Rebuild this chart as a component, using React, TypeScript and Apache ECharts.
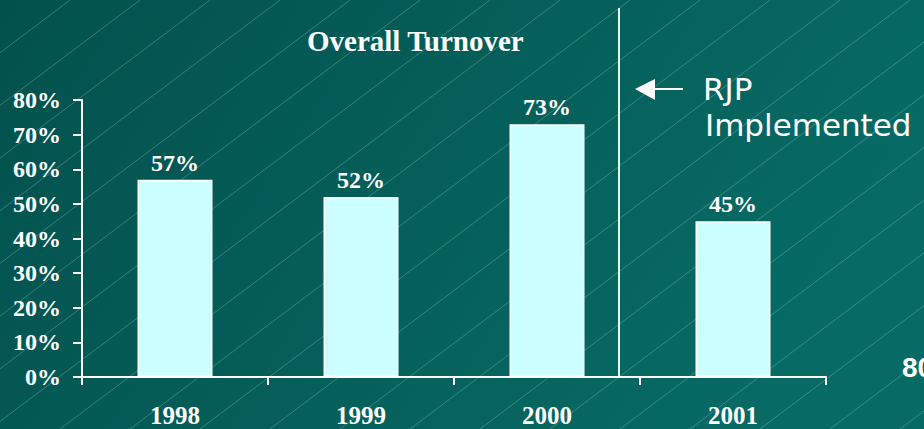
import React, { useEffect, useRef } from "react";
import * as echarts from "echarts";

const categories = ["1998", "1999", "2000", "2001"];
const turnover = [57, 52, 73, 45];
const yMin = 0;
const yMax = 80;
const yInterval = 10;
const titleText = "Overall Turnover";
const noteLines = ["RJP", "Implemented"];
const pageNumber = "80";

const SERIF = "'Liberation Serif', 'Times New Roman', serif";
const SANS = "'DejaVu Sans', sans-serif";

export default function App() {
  const ref = useRef<HTMLDivElement>(null);
  useEffect(() => {
    if (!ref.current) return;
    const chart = echarts.init(ref.current, undefined, { renderer: "svg" });

    const diagonals: any[] = [];
    for (let k = 1; k <= 22; k++) {
      const x0 = 70 * k;
      diagonals.push({
        type: "line",
        silent: true,
        z: -10,
        shape: { x1: x0, y1: 0, x2: x0 - 570, y2: 429 },
        style: { stroke: "rgba(170,215,210,0.4)", lineWidth: 0.8 },
      });
    }

    chart.setOption({
      animation: false,
      backgroundColor: {
        type: "linear",
        x: 0,
        y: 0,
        x2: 1,
        y2: 0.3,
        colorStops: [
          { offset: 0, color: "#03514d" },
          { offset: 1, color: "#076a64" },
        ],
      },
      title: {
        text: titleText,
        left: 307,
        top: 26,
        padding: 0,
        textStyle: {
          color: "#ffffff",
          fontFamily: SERIF,
          fontWeight: "bold",
          fontSize: 29,
        },
      },
      grid: { left: 82, right: 98, top: 100, bottom: 52 },
      xAxis: {
        type: "category",
        data: categories,
        z: 10,
        axisLine: { show: true, lineStyle: { color: "#ffffff", width: 2 } },
        axisTick: {
          show: true,
          inside: false,
          alignWithLabel: false,
          interval: 0,
          length: 8,
          lineStyle: { color: "#ffffff", width: 2 },
        },
        axisLabel: {
          color: "#ffffff",
          fontFamily: SERIF,
          fontWeight: "bold",
          fontSize: 25,
          margin: 26,
        },
      },
      yAxis: {
        type: "value",
        min: yMin,
        max: yMax,
        interval: yInterval,
        z: 10,
        splitLine: { show: false },
        axisLine: { show: true, lineStyle: { color: "#ffffff", width: 2 } },
        axisTick: {
          show: true,
          inside: false,
          length: 9,
          lineStyle: { color: "#ffffff", width: 2 },
        },
        axisLabel: {
          color: "#ffffff",
          fontFamily: SERIF,
          fontWeight: "bold",
          fontSize: 24,
          margin: 21,
          formatter: "{value}%",
        },
      },
      series: [
        {
          type: "bar",
          data: turnover,
          barWidth: 75,
          itemStyle: { color: "#ccffff", borderColor: "#ffffff", borderWidth: 1.5 },
          label: {
            show: true,
            position: "top",
            distance: 5,
            formatter: "{c}%",
            color: "#ffffff",
            fontFamily: SERIF,
            fontWeight: "bold",
            fontSize: 24,
          },
        },
      ],
      graphic: [
        ...diagonals,
        {
          type: "line",
          silent: true,
          z: 5,
          shape: { x1: 619, y1: 8, x2: 619, y2: 377 },
          style: { stroke: "#e8f4f2", lineWidth: 2 },
        },
        {
          type: "polygon",
          silent: true,
          z: 5,
          shape: { points: [[635, 89], [655, 79], [655, 100]] },
          style: { fill: "#ffffff" },
        },
        {
          type: "line",
          silent: true,
          z: 5,
          shape: { x1: 654, y1: 89, x2: 683, y2: 89 },
          style: { stroke: "#ffffff", lineWidth: 2 },
        },
        {
          type: "text",
          z: 5,
          x: 703,
          y: 89,
          style: {
            text: noteLines[0],
            fill: "#ffffff",
            font: `normal 31px ${SANS}`,
            textAlign: "left",
            textVerticalAlign: "middle",
          },
        },
        {
          type: "text",
          z: 5,
          x: 705,
          y: 125,
          style: {
            text: noteLines[1],
            fill: "#ffffff",
            font: `normal 31px ${SANS}`,
            textAlign: "left",
            textVerticalAlign: "middle",
          },
        },
        {
          type: "text",
          z: 5,
          x: 902,
          y: 367,
          style: {
            text: pageNumber,
            fill: "#ffffff",
            font: `bold 28px 'Liberation Sans', Arial, sans-serif`,
            textAlign: "left",
            textVerticalAlign: "middle",
          },
        },
      ],
    });
    return () => chart.dispose();
  }, []);
  return (
    <div
      ref={ref}
      style={{ position: "fixed", left: 0, top: 0, width: 924, height: 429 }}
    />
  );
}
